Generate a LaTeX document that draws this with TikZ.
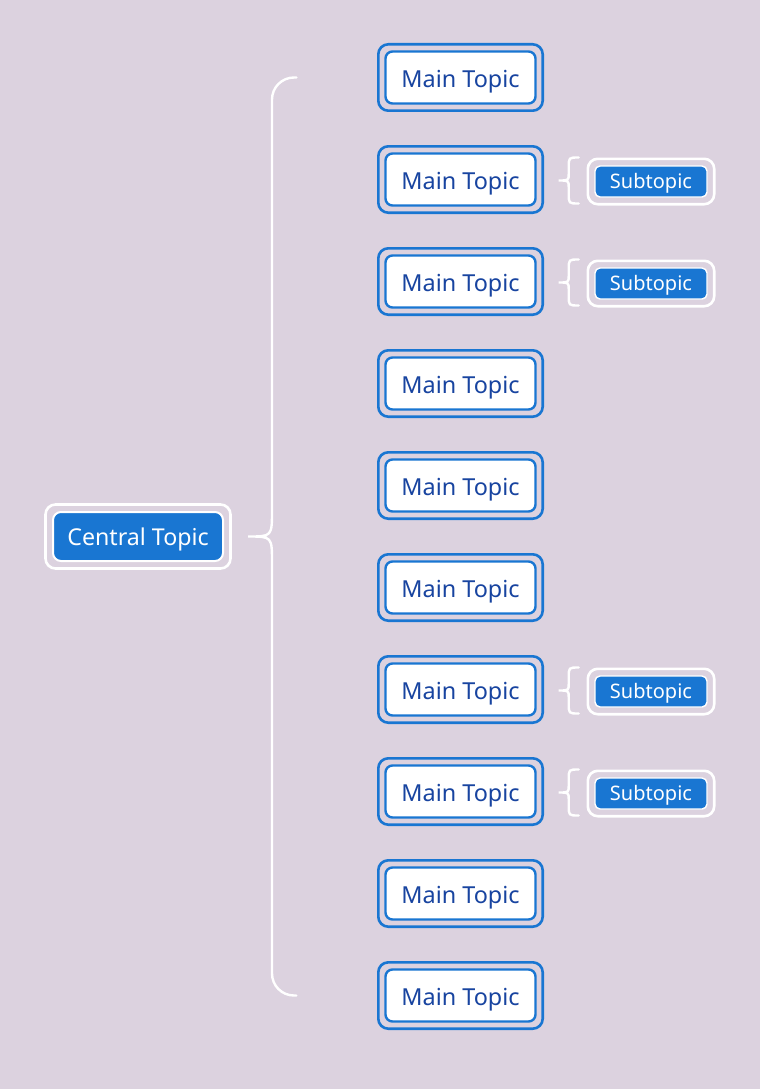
\documentclass[tikz,border=0pt]{standalone}
\usepackage{fontspec}
\setmainfont{Noto Sans}
\usetikzlibrary{calc,positioning}
\definecolor{bgcol}{RGB}{220,210,223}
\definecolor{pblue}{RGB}{25,118,210}
\definecolor{ptext}{RGB}{24,68,160}
\tikzset{
  mainbox/.style={draw=pblue,line width=2.4pt,fill=white,rounded corners=7pt,
    minimum width=150pt,minimum height=52pt,inner sep=0pt,text=ptext,
    text height=19.8pt,text depth=0pt,font=\fontsize{23.4}{26}\selectfont},
  mainring/.style={draw=pblue,line width=2.6pt,rounded corners=10pt},
  centbox/.style={draw=white,line width=2pt,fill=pblue,rounded corners=8pt,
    minimum width=170pt,minimum height=49pt,inner sep=0pt,text=white,
    text height=17.6pt,text depth=0pt,font=\fontsize{23.2}{26}\selectfont},
  subbox/.style={draw=white,line width=1.4pt,fill=pblue,rounded corners=5pt,
    minimum width=112pt,minimum height=31pt,inner sep=0pt,text=white,
    text height=14.3pt,text depth=0pt,font=\fontsize{20}{22}\selectfont},
  whitering/.style={draw=white,line width=2.6pt,rounded corners=10pt},
  bracket/.style={draw=white,line width=2.4pt,line cap=round}
}
\newcommand{\mtopic}[2]{\node[mainbox] (#1) at (#2) {Main Topic};
  \draw[mainring] ([shift={(-6pt,6pt)}]#1.north west) rectangle ([shift={(6pt,-6pt)}]#1.south east);}
\newcommand{\stopic}[2]{\node[subbox] (#1) at (#2) {Subtopic};
  \draw[whitering] ([shift={(-6.5pt,6.5pt)}]#1.north west) rectangle ([shift={(6.5pt,-6.5pt)}]#1.south east);}

\begin{document}
\begin{tikzpicture}[x=1pt,y=-1pt]
  \fill[bgcol] (0,0) rectangle (760,1089);
  \useasboundingbox (0,0) rectangle (760,1089);

  % central topic
  \node[centbox] (central) at (138,536.5) {Central Topic};
  \draw[whitering] ([shift={(-6.5pt,6.5pt)}]central.north west) rectangle ([shift={(6.5pt,-6.5pt)}]central.south east);

  % main topics
  \foreach \i in {1,...,10}{
    \mtopic{m\i}{460.5,{77.5+102*(\i-1)}}
  }

  % big bracket
  \coordinate (tip) at (248,536.5);
  \coordinate (btop) at ($(m1.west)+(-88,0)$);
  \coordinate (bbot) at ($(m10.west)+(-88,0)$);
  \draw[bracket] (btop) [rounded corners=22pt] -| (272,300) [sharp corners]
    -- (272,510) .. controls (272,536.5) .. (tip)
    .. controls (272,536.5) .. (272,563) -- (272,800) [rounded corners=22pt] |- (bbot);

  % subtopics
  \foreach \i in {2,3,7,8}{
    \stopic{s\i}{651,{79.5+102*(\i-1)}}
    \coordinate (t\i) at ($(m\i.east)+(22,1)$);
    \draw[bracket] ($(t\i)+(20,-23)$) .. controls ($(t\i)+(10,-23)$) .. ($(t\i)+(10,-13)$)
      -- ($(t\i)+(10,-7)$) .. controls ($(t\i)+(10,0)$) .. (t\i)
      .. controls ($(t\i)+(10,0)$) .. ($(t\i)+(10,7)$)
      -- ($(t\i)+(10,13)$) .. controls ($(t\i)+(10,23)$) .. ($(t\i)+(20,23)$);
  }
\end{tikzpicture}
\end{document}
